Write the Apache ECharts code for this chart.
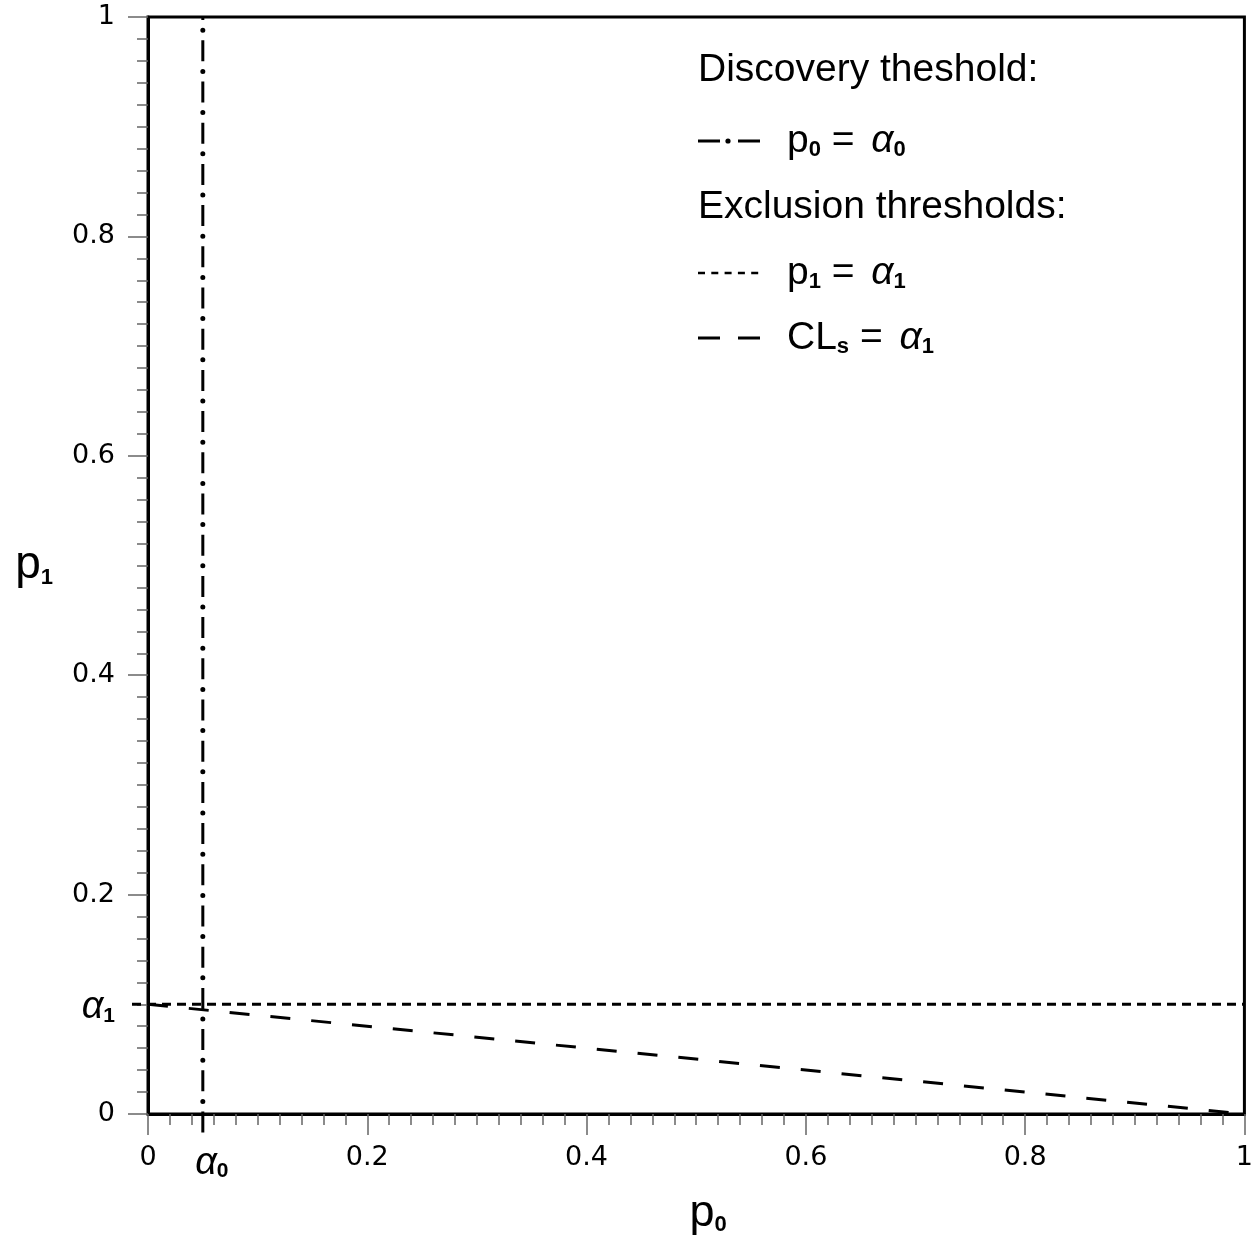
<!DOCTYPE html>
<html>
<head>
<meta charset="utf-8">
<script src="https://cdn.jsdelivr.net/npm/echarts@6/dist/echarts.min.js"></script>
<style>
  html, body { margin: 0; padding: 0; background: #fff; }
  #chart { width: 1256px; height: 1241px; }
</style>
</head>
<body>
<div id="chart"></div>
<script>
// Threshold values
const alpha0 = 0.05;   // discovery threshold on p0
const alpha1 = 0.1;    // exclusion threshold on p1

// Tick labels on both axes
const tickValues = [0, 0.2, 0.4, 0.6, 0.8, 1];
const tickLabels = ['0', '0.2', '0.4', '0.6', '0.8', '1'];

// Threshold lines (p0, p1 endpoints)
const discoveryLine = [[alpha0, 0], [alpha0, 1]];   // p0 = alpha0
const exclusionLine = [[0, alpha1], [1, alpha1]];   // p1 = alpha1
const clsLine = [[0, 0.1], [1, 0]];                 // CLs = alpha1

// Legend text
const legendHeads = ['Discovery theshold:', 'Exclusion thresholds:'];

const FONT = "'Liberation Sans', Arial, sans-serif";
const TICKFONT = "'DejaVu Sans', sans-serif";
const DOTTED = [9, 6];
const DASHED = [20, 21];

const subRich = {
  n: { fontSize: 27, fontFamily: TICKFONT, color: '#000' },
  a: { fontSize: 38, fontStyle: 'italic', fontFamily: FONT, color: '#000' },
  s: { fontSize: 21, fontWeight: 'bold', fontFamily: FONT, color: '#000', verticalAlign: 'bottom', lineHeight: 18 }
};

function tickText(v) {
  const i = tickValues.findIndex(t => Math.abs(t - v) < 1e-9);
  return i >= 0 ? '{n|' + tickLabels[i] + '}' : '';
}

// Dotted horizontal threshold, starting a little left of the axis like a labelled tick
function dottedRenderer(params, api) {
  const a = api.coord([api.value(0), api.value(1)]);
  const b = api.coord([api.value(2), api.value(3)]);
  return {
    type: 'line',
    shape: { x1: a[0] - 16, y1: a[1], x2: b[0], y2: b[1] },
    style: { stroke: '#000', lineWidth: 3, lineDash: DOTTED, lineCap: 'butt' }
  };
}

// Dash-dot vertical threshold: thin dashes plus heavier round dots, starting below the axis
function dashDotRenderer(params, api) {
  const a = api.coord([api.value(0), api.value(1)]);
  const b = api.coord([api.value(2), api.value(3)]);
  const shape = { x1: a[0], y1: a[1] + 18.5, x2: b[0], y2: b[1] };
  const period = 41.2, dash = 21;
  return {
    type: 'group',
    children: [
      { type: 'line', shape: shape,
        style: { stroke: '#000', lineWidth: 3, lineDash: [dash, period - dash], lineCap: 'butt' } },
      { type: 'line', shape: shape,
        style: { stroke: '#000', lineWidth: 5, lineDash: [0.01, period - 0.01],
                 lineDashOffset: -(dash + (period - dash) / 2), lineCap: 'round' } }
    ]
  };
}

const chart = echarts.init(document.getElementById('chart'), null, { renderer: 'canvas' });

const lx = 698, tx = 787;
const rows = [70, 141, 207, 273, 338];
const legRich = {
  t: { fontSize: 39, fontFamily: FONT, color: '#000' },
  a: { fontSize: 39, fontStyle: 'italic', fontFamily: FONT, color: '#000', padding: [0, 0, 0, 6] },
  s: { fontSize: 22, fontWeight: 'bold', fontFamily: FONT, color: '#000', verticalAlign: 'bottom', lineHeight: 18 }
};
const legendText = (y, text) => ({
  type: 'text', x: tx, y: y,
  style: { text: text, rich: legRich, font: '39px ' + FONT, fill: '#000', verticalAlign: 'middle', align: 'left' }
});
const headText = (y, text) => ({
  type: 'text', x: lx, y: y,
  style: { text: text, font: '39px ' + FONT, fill: '#000', verticalAlign: 'middle', align: 'left' }
});
const sampleLine = (y, dash, w) => ({
  type: 'line', shape: { x1: lx, y1: y, x2: lx + 62, y2: y },
  style: { stroke: '#000', lineWidth: w, lineDash: dash, lineCap: 'butt' }
});

chart.setOption({
  animation: false,
  backgroundColor: '#fff',
  grid: { left: 148, right: 10, top: 17, bottom: 126, show: true, borderColor: '#000', borderWidth: 3, backgroundColor: 'transparent' },
  xAxis: {
    type: 'value', min: 0, max: 1, interval: 0.2,
    name: '{p|p}{s|0}', nameLocation: 'middle', nameGap: 77,
    nameTextStyle: {
      rich: {
        p: { fontSize: 45, fontFamily: FONT, color: '#000', padding: [0, 0, 0, 24] },
        s: { fontSize: 22, fontWeight: 'bold', fontFamily: FONT, color: '#000', verticalAlign: 'bottom', lineHeight: 20 }
      }
    },
    axisLine: { show: true, onZero: false, lineStyle: { color: '#000', width: 3 } },
    axisTick: { show: true, inside: false, length: 21, lineStyle: { color: '#666', width: 1.5 } },
    minorTick: { show: true, splitNumber: 10, length: 11, lineStyle: { color: '#666', width: 1.5 } },
    splitLine: { show: false },
    axisLabel: {
      customValues: [0, alpha0, 0.2, 0.4, 0.6, 0.8, 1],
      margin: 30, fontSize: 27, fontFamily: TICKFONT, color: '#000',
      formatter: v => Math.abs(v - alpha0) < 1e-9 ? '{a|α}{s|0}' : tickText(v),
      rich: { n: subRich.n, a: Object.assign({}, subRich.a, { padding: [0, 0, 0, 18] }), s: subRich.s }
    }
  },
  yAxis: {
    type: 'value', min: 0, max: 1, interval: 0.2,
    name: '{p|p}{s|1}', nameLocation: 'middle', nameGap: 95, nameRotate: 0,
    nameTextStyle: {
      rich: {
        p: { fontSize: 46, fontFamily: FONT, color: '#000' },
        s: { fontSize: 22, fontWeight: 'bold', fontFamily: FONT, color: '#000', verticalAlign: 'bottom', lineHeight: 20 }
      }
    },
    axisLine: { show: true, onZero: false, lineStyle: { color: '#000', width: 3 } },
    axisTick: { show: true, inside: false, length: 20, lineStyle: { color: '#666', width: 1.5 } },
    minorTick: { show: true, splitNumber: 10, length: 11, lineStyle: { color: '#666', width: 1.5 } },
    splitLine: { show: false },
    axisLabel: {
      customValues: [0, alpha1, 0.2, 0.4, 0.6, 0.8, 1],
      margin: 33, fontSize: 27, fontFamily: TICKFONT, color: '#000',
      formatter: v => Math.abs(v - alpha1) < 1e-9 ? '{a|α}{s|1}' : tickText(v),
      rich: { n: subRich.n, a: Object.assign({}, subRich.a, { padding: [6, 0, 0, 0] }), s: subRich.s }
    }
  },
  series: [
    {
      name: 'CLs = α1', type: 'line', data: clsLine, symbol: 'none', silent: true,
      lineStyle: { color: '#000', width: 3, type: DASHED }, z: 3
    },
    {
      name: 'p1 = α1', type: 'custom', clip: false, silent: true, z: 4,
      data: [exclusionLine[0].concat(exclusionLine[1])],
      renderItem: dottedRenderer
    },
    {
      name: 'p0 = α0', type: 'custom', clip: false, silent: true, z: 5,
      data: [discoveryLine[0].concat(discoveryLine[1])],
      renderItem: dashDotRenderer
    }
  ],
  graphic: [
    headText(rows[0], legendHeads[0]),
    sampleLine(rows[1], [22, 18], 3),
    { type: 'circle', shape: { cx: lx + 30, cy: rows[1], r: 2.6 }, style: { fill: '#000' } },
    legendText(rows[1], '{t|p}{s|0}{t| = }{a|α}{s|0}'),
    headText(rows[2], legendHeads[1]),
    sampleLine(rows[3], [7, 6.3], 2.5),
    legendText(rows[3], '{t|p}{s|1}{t| = }{a|α}{s|1}'),
    sampleLine(rows[4], [22, 18], 3),
    legendText(rows[4], '{t|CL}{s|s}{t| = }{a|α}{s|1}')
  ]
});
</script>
</body>
</html>
